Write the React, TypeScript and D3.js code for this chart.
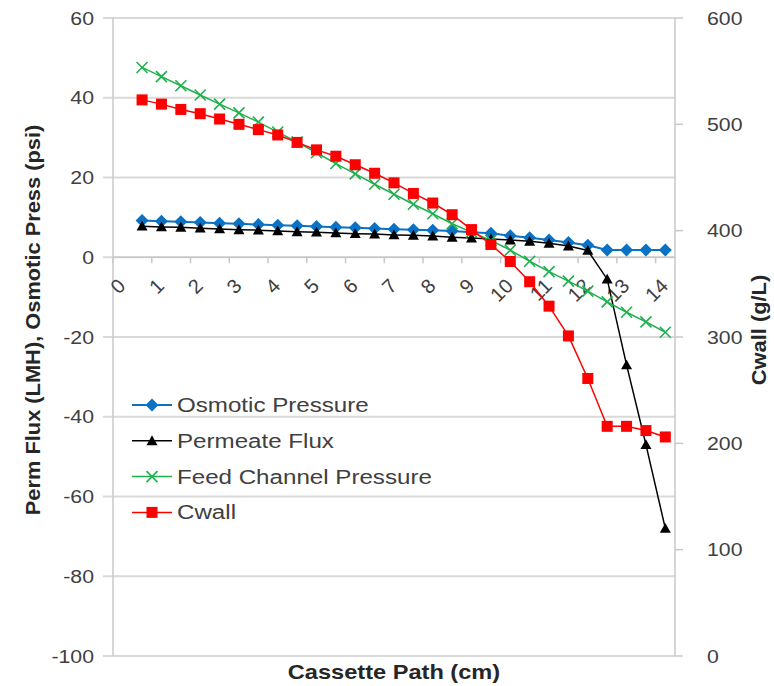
import React from "react";
import * as d3 from "d3";

const categories = ["0","0.5","1","1.5","2","2.5","3","3.5","4","4.5","5","5.5","6","6.5","7","7.5","8","8.5","9","9.5","10","10.5","11","11.5","12","12.5","13","13.5","14"];
const pathCm = ["0.5","1","1.5","2","2.5","3","3.5","4","4.5","5","5.5","6","6.5","7","7.5","8","8.5","9","9.5","10","10.5","11","11.5","12","12.5","13","13.5","14"];
const tickLabels = ["0","1","2","3","4","5","6","7","8","9","10","11","12","13","14"];

const osmoticPressure = [9.2, 9.0, 8.9, 8.7, 8.5, 8.4, 8.2, 8.0, 7.9, 7.7, 7.5, 7.4, 7.2, 7.0, 6.9, 6.8, 6.6, 6.3, 6.0, 5.4, 4.9, 4.3, 3.7, 3.0, 1.8, 1.8, 1.8, 1.8];
const permeateFlux = [7.8, 7.6, 7.5, 7.3, 7.1, 6.9, 6.8, 6.6, 6.4, 6.3, 6.1, 5.9, 5.8, 5.6, 5.5, 5.3, 5.0, 4.8, 4.6, 4.3, 4.0, 3.5, 2.8, 1.7, -5.5, -27, -47, -68];
const feedChannelPressure = [47.6, 45.3, 43.0, 40.7, 38.4, 36.2, 33.9, 31.4, 28.9, 26.2, 23.5, 20.9, 18.3, 15.8, 13.3, 10.9, 8.4, 6.3, 4.2, 1.8, -1.0, -3.6, -6.0, -8.5, -11.2, -13.8, -16.2, -18.8];
const cwall = [523, 519, 514, 510, 505, 500, 495, 490, 483, 476, 470, 462, 454, 445, 435, 426, 415, 401, 387, 371, 352, 329, 301, 261, 216, 216, 212, 206];

const leftTicks = [-100, -80, -60, -40, -20, 0, 20, 40, 60];
const rightTicks = [0, 100, 200, 300, 400, 500, 600];

const W = 774, H = 686;
const PL = 113, PR = 675, PT = 18, PB = 656;
const FONT = "'Liberation Sans', Arial, sans-serif";

const x = d3.scaleBand<string>().domain(categories).range([PL, PR]).padding(0);
const yL = d3.scaleLinear().domain([-100, 60]).range([PB, PT]);
const yR = d3.scaleLinear().domain([0, 600]).range([PB, PT]);
const cx = (c: string) => (x(c) as number) + x.bandwidth() / 2;

const BLUE = "#0a72c4";
const GREEN = "#1fb04e";
const RED = "#ff0000";
const BLACK = "#000000";
const SX = 1.12;

function Diamond({ x: px, y: py }: { x: number; y: number }) {
  const r = 6.5;
  return <path d={`M${px},${py - r}L${px + r},${py}L${px},${py + r}L${px - r},${py}Z`} fill={BLUE} />;
}
function Triangle({ x: px, y: py }: { x: number; y: number }) {
  const r = 5.5;
  return <path d={`M${px},${py - r}L${px + r},${py + r * 0.8}L${px - r},${py + r * 0.8}Z`} fill={BLACK} />;
}
function Cross({ x: px, y: py }: { x: number; y: number }) {
  const r = 5.5;
  return <path d={`M${px - r},${py - r}L${px + r},${py + r}M${px - r},${py + r}L${px + r},${py - r}`} stroke={GREEN} strokeWidth={1.6} fill="none" />;
}
function Square({ x: px, y: py }: { x: number; y: number }) {
  const r = 5.5;
  return <rect x={px - r} y={py - r} width={2 * r} height={2 * r} fill={RED} />;
}

type Series = {
  name: string;
  values: number[];
  scale: d3.ScaleLinear<number, number>;
  color: string;
  width: number;
  Marker: (p: { x: number; y: number }) => React.ReactElement;
};

const series: Series[] = [
  { name: "Osmotic Pressure", values: osmoticPressure, scale: yL, color: BLUE, width: 2, Marker: Diamond },
  { name: "Permeate Flux", values: permeateFlux, scale: yL, color: BLACK, width: 1.5, Marker: Triangle },
  { name: "Feed Channel Pressure", values: feedChannelPressure, scale: yL, color: GREEN, width: 1.5, Marker: Cross },
  { name: "Cwall", values: cwall, scale: yR, color: RED, width: 1.5, Marker: Square },
];

export default function App() {
  const bw = x.bandwidth();
  return (
    <svg width={W} height={H} style={{ position: "absolute", left: 0, top: 0, display: "block", background: "#fff" }} fontFamily={FONT}>
      <rect x={0} y={0} width={W} height={H} fill="#fff" />
      {leftTicks.map((t) => (
        <line key={"g" + t} x1={PL - 10} x2={PR} y1={yL(t)} y2={yL(t)} stroke="#d9d9d9" strokeWidth={2} />
      ))}
      {rightTicks.map((t) => (
        <line key={"rt" + t} x1={PR} x2={PR + 8} y1={yR(t)} y2={yR(t)} stroke="#c8c8c8" strokeWidth={1.5} />
      ))}
      <line x1={PL} x2={PL} y1={PT} y2={PB} stroke="#c8c8c8" strokeWidth={1.5} />
      <line x1={PR} x2={PR} y1={PT} y2={PB} stroke="#c8c8c8" strokeWidth={1.5} />
      <line x1={PL} x2={PR} y1={yL(0)} y2={yL(0)} stroke="#c8c8c8" strokeWidth={1.5} />
      {tickLabels.map((t, i) => {
        const bx = PL + 2 * i * bw;
        return <line key={"xt" + t} x1={bx} x2={bx} y1={yL(0)} y2={yL(0) + 6} stroke="#c8c8c8" strokeWidth={1.5} />;
      })}
      {leftTicks.map((t) => (
        <text key={"lt" + t} x={0} y={0} transform={`translate(94 ${yL(t)}) scale(${SX} 1)`} textAnchor="end" dominantBaseline="central" fontSize={19} fill="#404040">{t}</text>
      ))}
      {rightTicks.map((t) => (
        <text key={"rl" + t} x={0} y={0} transform={`translate(707 ${yR(t)}) scale(${SX} 1)`} textAnchor="start" dominantBaseline="central" fontSize={19} fill="#404040">{t}</text>
      ))}
      {tickLabels.map((t) => {
        const px = cx(t) + 4;
        const py = yL(0) + 30;
        return (
          <text key={"xl" + t} x={0} y={0} fontSize={20} textAnchor="end" fill="#404040" transform={`translate(${px} ${py}) rotate(-45)`}>{t}</text>
        );
      })}
      <text x={0} y={0} transform={`translate(33 320) rotate(-90) scale(${SX} 1)`} textAnchor="middle" dominantBaseline="central" fontSize={19.5} fontWeight="bold" fill="#262626">Perm Flux (LMH), Osmotic Press (psi)</text>
      <text x={0} y={0} transform={`translate(759 330) rotate(-90) scale(${SX} 1)`} textAnchor="middle" dominantBaseline="central" fontSize={19.5} fontWeight="bold" fill="#262626">Cwall (g/L)</text>
      <text x={0} y={0} transform={`translate(${(PL + PR) / 2} 672) scale(1.18 1)`} textAnchor="middle" dominantBaseline="central" fontSize={20} fontWeight="bold" fill="#262626">Cassette Path (cm)</text>
      {series.map((s) => {
        const line = d3.line<number>().x((_, i) => cx(pathCm[i])).y((v) => s.scale(v));
        return (
          <g key={s.name}>
            <path d={line(s.values) || ""} fill="none" stroke={s.color} strokeWidth={s.width} />
            {s.values.map((v, i) => (
              <s.Marker key={i} x={cx(pathCm[i])} y={s.scale(v)} />
            ))}
          </g>
        );
      })}
      {series.map((s, i) => {
        const ly = 405 + i * 35.8;
        return (
          <g key={"lg" + s.name}>
            <line x1={132} x2={172} y1={ly} y2={ly} stroke={s.color} strokeWidth={s.width} />
            <s.Marker x={152} y={ly} />
            <text x={0} y={0} transform={`translate(177 ${ly}) scale(1.15 1)`} dominantBaseline="central" fontSize={21} fill="#404040">{s.name}</text>
          </g>
        );
      })}
    </svg>
  );
}
